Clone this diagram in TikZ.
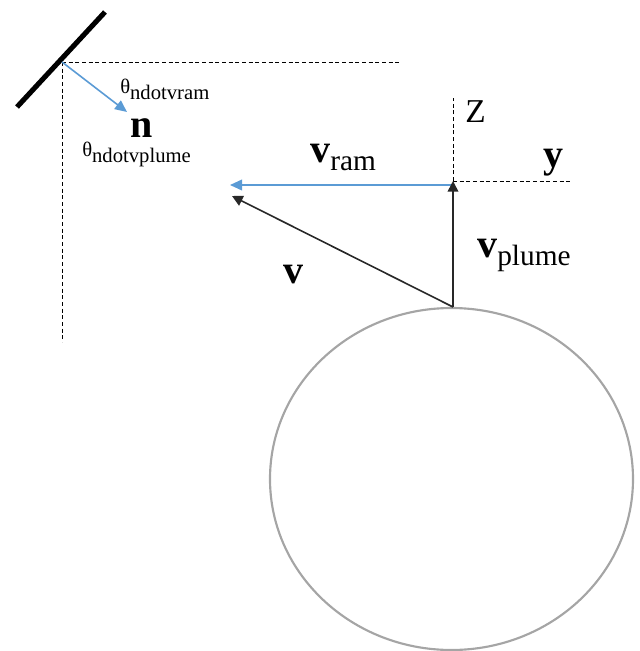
\documentclass[tikz,border=0pt]{standalone}
\usepackage{fontspec}
\setmainfont{Liberation Serif}
\usetikzlibrary{arrows.meta}
\definecolor{ramblue}{RGB}{91,155,213}
\definecolor{circgray}{RGB}{165,165,165}
\definecolor{vecblack}{RGB}{40,40,40}
\begin{document}
\begin{tikzpicture}[x=0.75pt,y=-0.75pt,
  guide/.style={line width=0.75pt, dash pattern=on 3pt off 2pt, black},
  bluevec/.style={line width=1.2pt, ramblue, -{Triangle[length=9pt,width=8pt]}},
  blackvec/.style={line width=1.2pt, vecblack, -{Triangle[length=8pt,width=8pt]}},
  smalltxt/.style={inner sep=0pt, anchor=base west, font=\fontsize{15.5}{18}\selectfont},
  bigtxt/.style={inner sep=0pt, anchor=base west, font=\fontsize{30}{36}\selectfont\bfseries},
  axistxt/.style={inner sep=0pt, anchor=base west, font=\fontsize{25}{30}\selectfont}
]
\useasboundingbox (0,0) rectangle (640,651);
% coordinates
\coordinate (pivot) at (62,62);
\coordinate (m1) at (17,107);
\coordinate (m2) at (105,12);
\coordinate (hend) at (400,62);
\coordinate (vend) at (62,342);
\coordinate (ntip) at (127,112);
\coordinate (orig) at (453,181);
\coordinate (zend) at (453,98);
\coordinate (yend) at (572,181);
\coordinate (ramstart) at (453,185);
\coordinate (ramtip) at (230,185);
\coordinate (base) at (453,307);
\coordinate (vtip) at (232,196);
% planet
\draw[circgray, line width=1.6pt] (451.5,479) ellipse [x radius=181.5, y radius=171];
% mirror and guides
\draw[line width=3.8pt] (m1) -- (m2);
\draw[guide] (pivot) -- (hend);
\draw[guide] (pivot) -- (vend);
\draw[bluevec] (pivot) -- (ntip);
\draw[guide] (orig) -- (zend);
\draw[guide] (orig) -- (yend);
% vectors
\draw[bluevec] (ramstart) -- (ramtip);
\draw[blackvec] (base) -- (orig);
\draw[blackvec] (base) -- (vtip);
% labels
\node[smalltxt] (thram) at (120,93) {θ\raisebox{-0.3em}{ndotvram}};
\node[bigtxt] (nlab) at (130,137) {n};
\node[smalltxt] (thplume) at (82,156) {θ\raisebox{-0.3em}{ndotvplume}};
\node[bigtxt] (vram) at (310,162) {v{\fontsize{22}{26}\selectfont\mdseries\raisebox{-0.3em}{ram}}};
\node[axistxt] (zlab) at (465,122) {Z};
\node[bigtxt] (ylab) at (543,167) {y};
\node[bigtxt] (vlab) at (283,283) {v};
\node[bigtxt] (vplume) at (477,257) {v{\fontsize{22}{26}\selectfont\mdseries\raisebox{-0.3em}{plume}}};
\end{tikzpicture}
\end{document}
